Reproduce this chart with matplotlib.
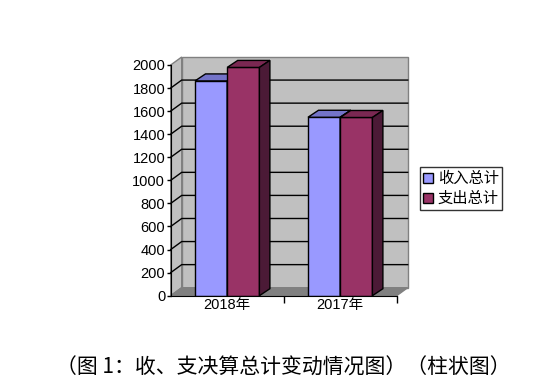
import matplotlib.pyplot as plt
from matplotlib.patches import Polygon, Patch

plt.rcParams['font.family'] = ['Liberation Sans', 'Noto Sans CJK SC', 'DejaVu Sans']

categories = ['2018年', '2017年']
series_names = ['收入总计', '支出总计']
income = [1862, 1547]
expense = [1979, 1545]
y_ticks = [0, 200, 400, 600, 800, 1000, 1200, 1400, 1600, 1800, 2000]
caption = '（图 1：收、支决算总计变动情况图）（柱状图）'

front_colors = ['#9999FF', '#993366']
top_colors = ['#7373C8', '#7A2852']
side_colors = ['#4C4C80', '#4B1A36']

W, H = 547, 387
fig = plt.figure(figsize=(W / 100, H / 100), dpi=100)
ax = fig.add_axes([170.7 / W, (H - 295.7) / H, 226 / W, 230.7 / H])
ax.set_xlim(0, 2)
ax.set_ylim(0, 2000)
ax.patch.set_visible(False)

# depth of the 3D box in data units (about 11 px right, 8 px up)
dx = 11 / 113
dy = 8 / (230.7 / 2000)
ymax = 2000

# walls
wall = '#C0C0C0'
edge = '#808080'
ax.add_patch(Polygon([(dx, dy), (2 + dx, dy), (2 + dx, ymax + dy), (dx, ymax + dy)],
                     closed=True, facecolor=wall, edgecolor=edge, lw=1, clip_on=False, zorder=0))
ax.add_patch(Polygon([(0, 0), (dx, dy), (dx, ymax + dy), (0, ymax)],
                     closed=True, facecolor=wall, edgecolor=edge, lw=1, clip_on=False, zorder=0))
ax.add_patch(Polygon([(0, 0), (2, 0), (2 + dx, dy), (dx, dy)],
                     closed=True, facecolor='#808080', edgecolor=edge, lw=1, clip_on=False, zorder=1))

# gridlines on the walls
for v in y_ticks[1:-1]:
    ax.plot([0, dx, 2 + dx], [v, v + dy, v + dy], color='black', lw=1, clip_on=False, zorder=1)

# bars
bw = 0.285
bdx = 10.5 / 113
bdy = 7 / (230.7 / 2000)
xs = [0.5, 1.5]
for k, vals in enumerate([income, expense]):
    for i, v in enumerate(vals):
        left = xs[i] - bw if k == 0 else xs[i]
        ax.bar(left, v, width=bw, align='edge', color=front_colors[k],
               edgecolor='black', lw=1, zorder=3 + k * 2)
        ax.add_patch(Polygon([(left, v), (left + bw, v), (left + bw + bdx, v + bdy), (left + bdx, v + bdy)],
                             closed=True, facecolor=top_colors[k], edgecolor='black', lw=1,
                             clip_on=False, zorder=3 + k * 2))
        ax.add_patch(Polygon([(left + bw, 0), (left + bw + bdx, bdy), (left + bw + bdx, v + bdy), (left + bw, v)],
                             closed=True, facecolor=side_colors[k], edgecolor='black', lw=1,
                             clip_on=False, zorder=3 + k * 2))

# axes
for s in ['top', 'right']:
    ax.spines[s].set_visible(False)
ax.spines['left'].set_zorder(2)
ax.spines['bottom'].set_zorder(10)
ax.set_yticks(y_ticks)
ax.set_yticklabels([str(t) for t in y_ticks], fontsize=10.5)
ax.tick_params(axis='y', length=3, width=1, pad=1)
ax.set_xticks([1, 2])
ax.set_xticklabels([])
ax.tick_params(axis='x', length=5, width=1)
ax.set_xticks(xs, minor=True)
ax.set_xticklabels(categories, minor=True, fontsize=10.5)
ax.tick_params(axis='x', which='minor', length=0, pad=2)

# legend
handles = [Patch(facecolor=front_colors[k], edgecolor='black', lw=1) for k in range(2)]
leg = fig.legend(handles, series_names, loc='upper left',
                 bbox_to_anchor=(420 / W, 1 - 167 / H), prop={'family': 'Noto Sans CJK SC', 'size': 11},
                 frameon=True, fancybox=False, handlelength=0.65, handleheight=0.65,
                 handletextpad=0.3, labelspacing=0.2, borderpad=0.2, borderaxespad=0)
leg.get_frame().set_edgecolor('black')
leg.get_frame().set_linewidth(1)

fig.text(283.5 / W, 1 - 368 / H, caption, ha='center', va='center', fontsize=15,
         family=['Noto Sans CJK SC', 'DejaVu Sans'])

fig.savefig('out.png', dpi=100)
